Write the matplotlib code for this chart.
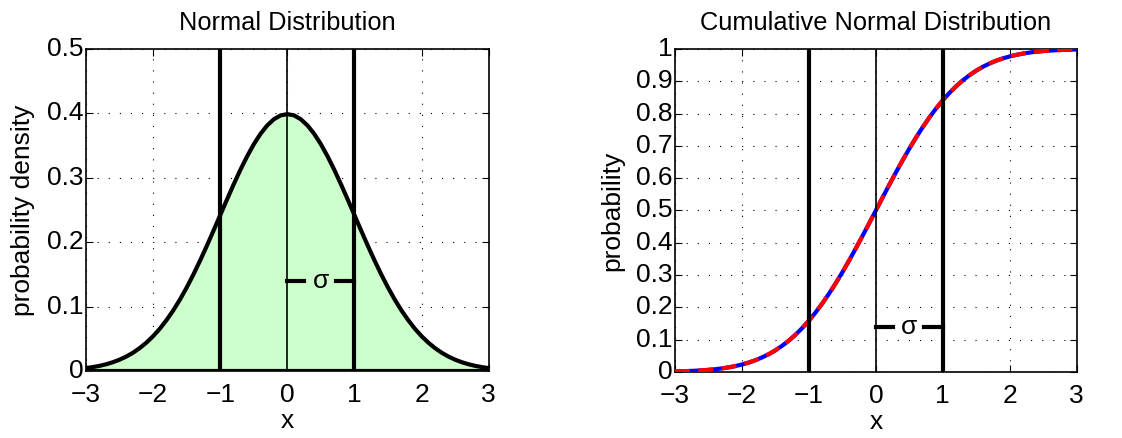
import numpy as np
import matplotlib.pyplot as plt

plt.rcParams['font.family'] = ['Liberation Sans', 'DejaVu Sans']

# sample points along x
x_vals = np.arange(-30, 31) / 10.0

# density values at each x
pdf_vals = [0.0044, 0.0060, 0.0079, 0.0104, 0.0136, 0.0175, 0.0224, 0.0283, 0.0355, 0.0440,
            0.0540, 0.0656, 0.0790, 0.0940, 0.1109, 0.1295, 0.1497, 0.1714, 0.1942, 0.2179,
            0.2420, 0.2661, 0.2897, 0.3123, 0.3332, 0.3521, 0.3683, 0.3814, 0.3910, 0.3970,
            0.3989,
            0.3970, 0.3910, 0.3814, 0.3683, 0.3521, 0.3332, 0.3123, 0.2897, 0.2661, 0.2420,
            0.2179, 0.1942, 0.1714, 0.1497, 0.1295, 0.1109, 0.0940, 0.0790, 0.0656, 0.0540,
            0.0440, 0.0355, 0.0283, 0.0224, 0.0175, 0.0136, 0.0104, 0.0079, 0.0060, 0.0044]

# cumulative probability at each x (blue = exact, red = approximation)
cdf_vals = [0.0013, 0.0019, 0.0026, 0.0035, 0.0047, 0.0062, 0.0082, 0.0107, 0.0139, 0.0179,
            0.0228, 0.0287, 0.0359, 0.0446, 0.0548, 0.0668, 0.0808, 0.0968, 0.1151, 0.1357,
            0.1587, 0.1841, 0.2119, 0.2420, 0.2743, 0.3085, 0.3446, 0.3821, 0.4207, 0.4602,
            0.5000,
            0.5398, 0.5793, 0.6179, 0.6554, 0.6915, 0.7257, 0.7580, 0.7881, 0.8159, 0.8413,
            0.8643, 0.8849, 0.9032, 0.9192, 0.9332, 0.9452, 0.9554, 0.9641, 0.9713, 0.9772,
            0.9821, 0.9861, 0.9893, 0.9918, 0.9938, 0.9953, 0.9965, 0.9974, 0.9981, 0.9987]
cdf_approx = cdf_vals

x_ticks = [-3, -2, -1, 0, 1, 2, 3]
x_ticklabels = ['\u22123', '\u22122', '\u22121', '0', '1', '2', '3']
pdf_yticks = [0, 0.1, 0.2, 0.3, 0.4, 0.5]
pdf_yticklabels = ['0', '0.1', '0.2', '0.3', '0.4', '0.5']
cdf_yticks = [0, 0.1, 0.2, 0.3, 0.4, 0.5, 0.6, 0.7, 0.8, 0.9, 1]
cdf_yticklabels = ['0', '0.1', '0.2', '0.3', '0.4', '0.5', '0.6', '0.7', '0.8', '0.9', '1']

sigma = 1
sigma_y = 0.14


def style_axes(ax, yticks, yticklabels):
    ax.set_xlim(-3, 3)
    ax.set_xticks(x_ticks)
    ax.set_xticklabels(x_ticklabels)
    ax.set_yticks(yticks)
    ax.set_yticklabels(yticklabels, va='center')
    ax.tick_params(direction='in', length=5, width=0.8, labelsize=19,
                   top=True, right=True)
    ax.tick_params(axis='y', pad=2)
    ax.tick_params(axis='x', pad=9)
    ax.grid(True, color='black', linestyle=(0, (1, 9)), linewidth=0.8)
    ax.set_axisbelow(True)
    for s in ax.spines.values():
        s.set_linewidth(1.2)
    ax.set_xlabel('x', fontsize=19, labelpad=1)


def draw_sigma(ax, top):
    # +/- 1 sigma markers and the center line
    ax.plot([-sigma, -sigma], [0, top], color='black', lw=3, zorder=4)
    ax.plot([sigma, sigma], [0, top], color='black', lw=3, zorder=4)
    ax.plot([0, 0], [0, top], color='black', lw=1.2, zorder=4)
    ax.plot([0, 0.25 * sigma], [sigma_y, sigma_y], color='black', lw=3, zorder=4)
    ax.plot([0.72 * sigma, sigma], [sigma_y, sigma_y], color='black', lw=3, zorder=4)
    ax.text(0.5 * sigma, sigma_y, '\u03c3', fontsize=19, ha='center', va='center',
            zorder=5)


fig = plt.figure(figsize=(11.22, 4.38), dpi=100)

ax1 = fig.add_axes([0.0766, 0.153, 0.359, 0.735])
ax1.fill_between(x_vals, pdf_vals, 0, color='#ccffcc', zorder=2)
ax1.plot(x_vals, pdf_vals, color='black', lw=3, zorder=3)
ax1.plot([-3, 3], [0, 0], color='black', lw=3, zorder=3)
draw_sigma(ax1, 0.5)
ax1.set_ylim(0, 0.5)
style_axes(ax1, pdf_yticks, pdf_yticklabels)
ax1.set_ylabel('probability density', fontsize=19, labelpad=8)
ax1.set_title('Normal Distribution', fontsize=18.3, pad=14)

ax2 = fig.add_axes([0.6016, 0.151, 0.358, 0.737])
ax2.plot(x_vals, cdf_vals, color='blue', lw=3, zorder=3)
ax2.plot(x_vals, cdf_approx, color='red', lw=3, dashes=(3.6, 2), zorder=3)
draw_sigma(ax2, 1)
ax2.set_ylim(0, 1)
style_axes(ax2, cdf_yticks, cdf_yticklabels)
ax2.set_ylabel('probability', fontsize=19, labelpad=8)
ax2.set_title('Cumulative Normal Distribution', fontsize=18.3, pad=14)

fig.savefig('out.png', dpi=100)
